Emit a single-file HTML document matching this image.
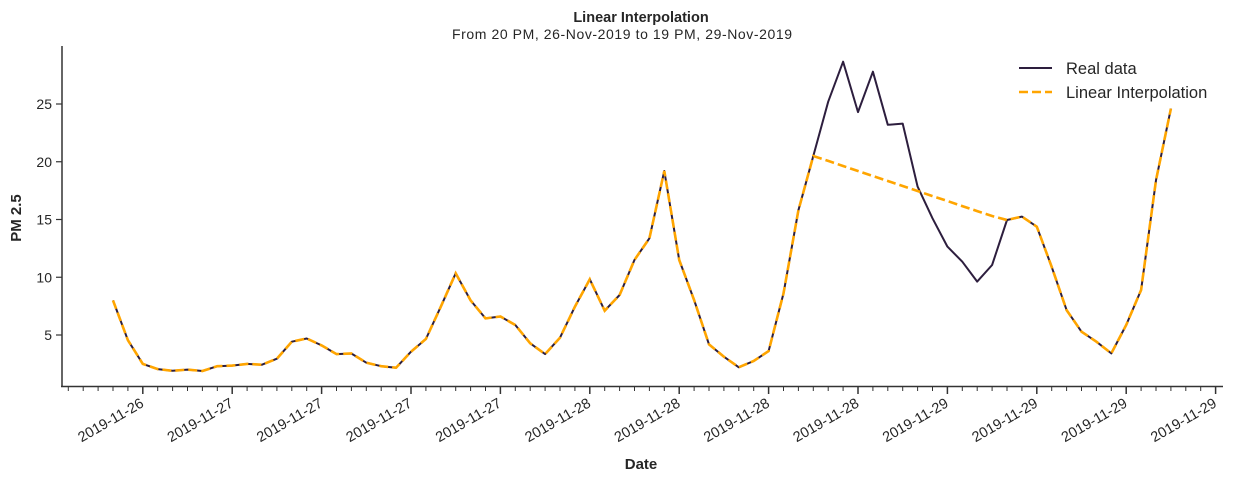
<!DOCTYPE html>
<html><head><meta charset="utf-8"><style>
body{margin:0;background:#fff}
svg{display:block;font-family:"Liberation Sans",Arial,sans-serif}
</style></head><body>
<svg id="chart" width="1233" height="481">
<text x="641" y="22" text-anchor="middle" font-size="14.5" font-weight="bold" fill="#262626">Linear Interpolation</text>
<text x="622" y="39" text-anchor="middle" font-size="14" textLength="340" fill="#262626">From 20 PM, 26-Nov-2019 to 19 PM, 29-Nov-2019</text>
<text transform="translate(21,218) rotate(-90)" text-anchor="middle" font-size="15" font-weight="bold" fill="#262626">PM 2.5</text>
<text x="641" y="469" text-anchor="middle" font-size="15" font-weight="bold" fill="#262626">Date</text>
<g id="axes"></g>
<g id="series"></g>
<g>
<line x1="1019" y1="68" x2="1052" y2="68" stroke="#2d1e3e" stroke-width="2"/>
<text x="1066" y="74" font-size="16.5" fill="#262626">Real data</text>
<line x1="1019" y1="92" x2="1052" y2="92" stroke="#ffa500" stroke-width="2.6" stroke-dasharray="9,4"/>
<text x="1066" y="98" font-size="16.5" fill="#262626">Linear Interpolation</text>
</g>
</svg>
<script>
const realData=[8.0,4.55,2.5,2.05,1.9,2.0,1.88,2.3,2.35,2.5,2.43,2.95,4.42,4.7,4.1,3.35,3.4,2.6,2.3,2.17,3.55,4.65,7.45,10.34,8.0,6.44,6.6,5.87,4.28,3.35,4.77,7.45,9.82,7.1,8.46,11.5,13.37,19.2,11.5,8.03,4.19,3.12,2.2,2.75,3.61,8.6,15.8,20.5,25.2,28.66,24.3,27.8,23.2,23.3,17.85,15.1,12.65,11.35,9.62,11.06,14.96,15.25,14.38,10.9,7.16,5.29,4.42,3.41,5.87,8.9,18.4,24.6];
const interpData=[8.0,4.55,2.5,2.05,1.9,2.0,1.88,2.3,2.35,2.5,2.43,2.95,4.42,4.7,4.1,3.35,3.4,2.6,2.3,2.17,3.55,4.65,7.45,10.34,8.0,6.44,6.6,5.87,4.28,3.35,4.77,7.45,9.82,7.1,8.46,11.5,13.37,19.2,11.5,8.03,4.19,3.12,2.2,2.75,3.61,8.6,15.8,20.5,20.07,19.63,19.2,18.77,18.33,17.9,17.47,17.03,16.6,16.16,15.73,15.3,14.96,15.25,14.38,10.9,7.16,5.29,4.42,3.41,5.87,8.9,18.4,24.6];
const yTicks=[5,10,15,20,25];
const xTickLabels=["2019-11-26","2019-11-27","2019-11-27","2019-11-27","2019-11-27","2019-11-28","2019-11-28","2019-11-28","2019-11-28","2019-11-29","2019-11-29","2019-11-29","2019-11-29"];
const firstMajorIndex=2, majorStep=6;
const NS="http://www.w3.org/2000/svg";
const X=i=>113+i*14.9;
const Y=v=>392.75-v*11.55;
const axes=document.getElementById('axes'),series=document.getElementById('series');
function mk(tag,attrs,parent){const e=document.createElementNS(NS,tag);for(const k in attrs)e.setAttribute(k,attrs[k]);parent.appendChild(e);return e;}
let e=mk('line',{x1:62,y1:46,x2:62,y2:387,stroke:'#333',"stroke-width":1.5},axes);


e=mk('line',{x1:61,y1:386.5,x2:1223,y2:386.5,stroke:'#333',"stroke-width":1.5},axes);


yTicks.forEach(v=>{
 let t=mk('line',{x1:56,y1:Y(v),x2:62,y2:Y(v),stroke:'#333',"stroke-width":1.2},axes);
 
 
 let l=mk('text',{x:52,y:Y(v)+5,"text-anchor":"end","font-size":14,fill:'#262626'},axes);
 l.textContent=v;
 
 
});
for(let i=-3;i<=74;i++){
 const major=(i-firstMajorIndex)%majorStep===0;
 let t=mk('line',{x1:X(i),y1:386.5,x2:X(i),y2:major?394:391,stroke:'#333',"stroke-width":major?1.5:1},axes);
 
 
}
xTickLabels.forEach((s,k)=>{
 const x=X(firstMajorIndex+k*majorStep);
 let l=mk('text',{transform:`translate(${x+2},406) rotate(-30)`,"text-anchor":"end","font-size":14.5,fill:'#262626'},axes);
 l.textContent=s;
 
 
});
const pts=a=>a.map((v,i)=>X(i).toFixed(1)+','+Y(v).toFixed(1)).join(' ');
e=mk('polyline',{points:pts(realData),fill:'none',stroke:'#2d1e3e',"stroke-width":2,"stroke-linejoin":"round"},series);


e=mk('polyline',{points:pts(interpData),fill:'none',stroke:'#ffa500',"stroke-width":2.6,"stroke-dasharray":"9,4"},series);


</script>
</body></html>
